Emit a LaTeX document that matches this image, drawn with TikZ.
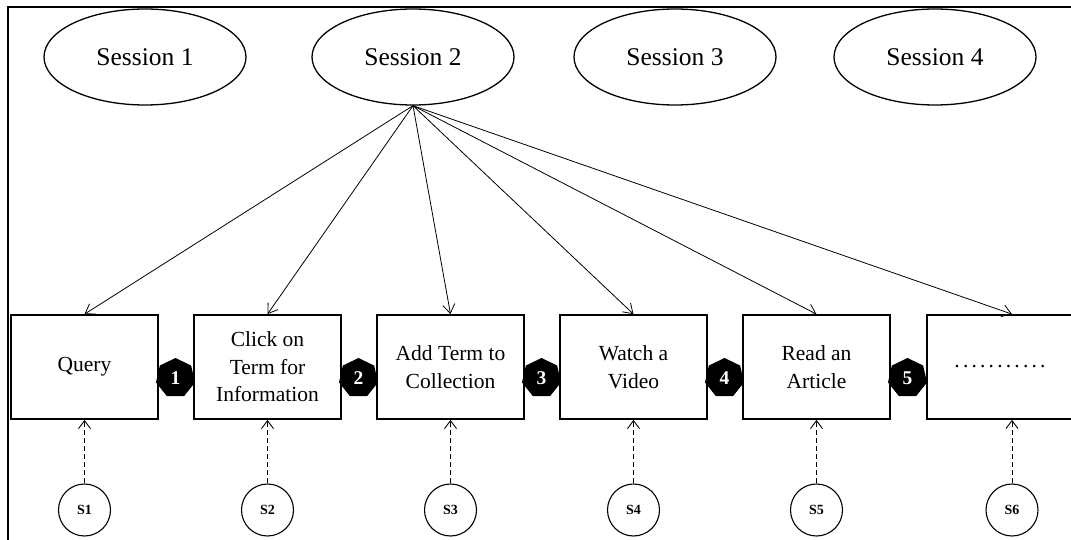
\documentclass[tikz,border=0pt]{standalone}
\usepackage{fontspec}
\setmainfont{Liberation Serif}
\usetikzlibrary{shapes.geometric,arrows.meta}
\newcommand\dotrow{\foreach \k in {1,...,10}{.\kern3.2pt}.}
\begin{document}
\begin{tikzpicture}[x=1pt,y=-1pt,
  session/.style={draw,ellipse,line width=1.3pt,minimum width=202pt,minimum height=96pt,
    inner sep=0pt,font=\fontsize{25.5}{28}\selectfont},
  stepbox/.style={draw,line width=1.7pt,minimum width=147pt,minimum height=104pt,
    inner sep=2pt,align=center,font=\fontsize{21.5}{27.5}\selectfont},
  badge/.style={regular polygon,regular polygon sides=7,fill=black,minimum size=40pt,
    inner sep=0pt,text=white,font=\fontsize{19.5}{19.5}\selectfont\bfseries},
  src/.style={draw,circle,line width=1.1pt,minimum size=52pt,inner sep=0pt,
    font=\fontsize{14}{14}\selectfont\bfseries},
  fan/.style={-{Straight Barb[length=9pt,width=12pt]},line width=0.8pt},
  feed/.style={-{Straight Barb[length=8pt,width=12pt]},line width=0.9pt,dash pattern=on 5pt off 3pt},
]
\useasboundingbox (0,0) rectangle (1071,540);

% outer frame: top and left edges
\draw[line width=2.2pt] (1071,7) -- (8,7) -- (8,540);

% sessions
\node[session] (s1) at (145,57) {Session 1};
\node[session] (s2) at (413,57) {Session 2};
\node[session] (s3) at (675,57) {Session 3};
\node[session] (s4) at (935,57) {Session 4};

% activity steps
\node[stepbox] (b1) at (84.5,367) {Query};
\node[stepbox] (b2) at (267.5,367) {Click on\\Term for\\Information};
\node[stepbox] (b3) at (450.5,367) {Add Term to\\Collection};
\node[stepbox] (b4) at (633.5,367) {Watch a\\Video};
\node[stepbox] (b5) at (816.5,367) {Read an\\Article};
\node[stepbox,minimum width=170pt] (b6) at (1012,367) {\kern-24pt\dotrow};

% transition order markers
\node[badge] (n1) at (175.5,378) {1};
\node[badge] (n2) at (358.5,378) {2};
\node[badge] (n3) at (541.5,378) {3};
\node[badge] (n4) at (724.5,378) {4};
\node[badge] (n5) at (907.5,378) {5};

% states feeding each step
\node[src] (c1) at (84.5,510) {S1};
\node[src] (c2) at (267.5,510) {S2};
\node[src] (c3) at (450.5,510) {S3};
\node[src] (c4) at (633.5,510) {S4};
\node[src] (c5) at (816.5,510) {S5};
\node[src] (c6) at (1012,510) {S6};

% session 2 fans out to every step
\foreach \b in {b1,b2,b3,b4,b5,b6}
  \draw[fan] (s2.south) -- (\b.north);

% dashed feeds from states
\foreach \i in {1,...,6}
  \draw[feed] (c\i.north) -- (b\i.south);
\end{tikzpicture}
\end{document}
